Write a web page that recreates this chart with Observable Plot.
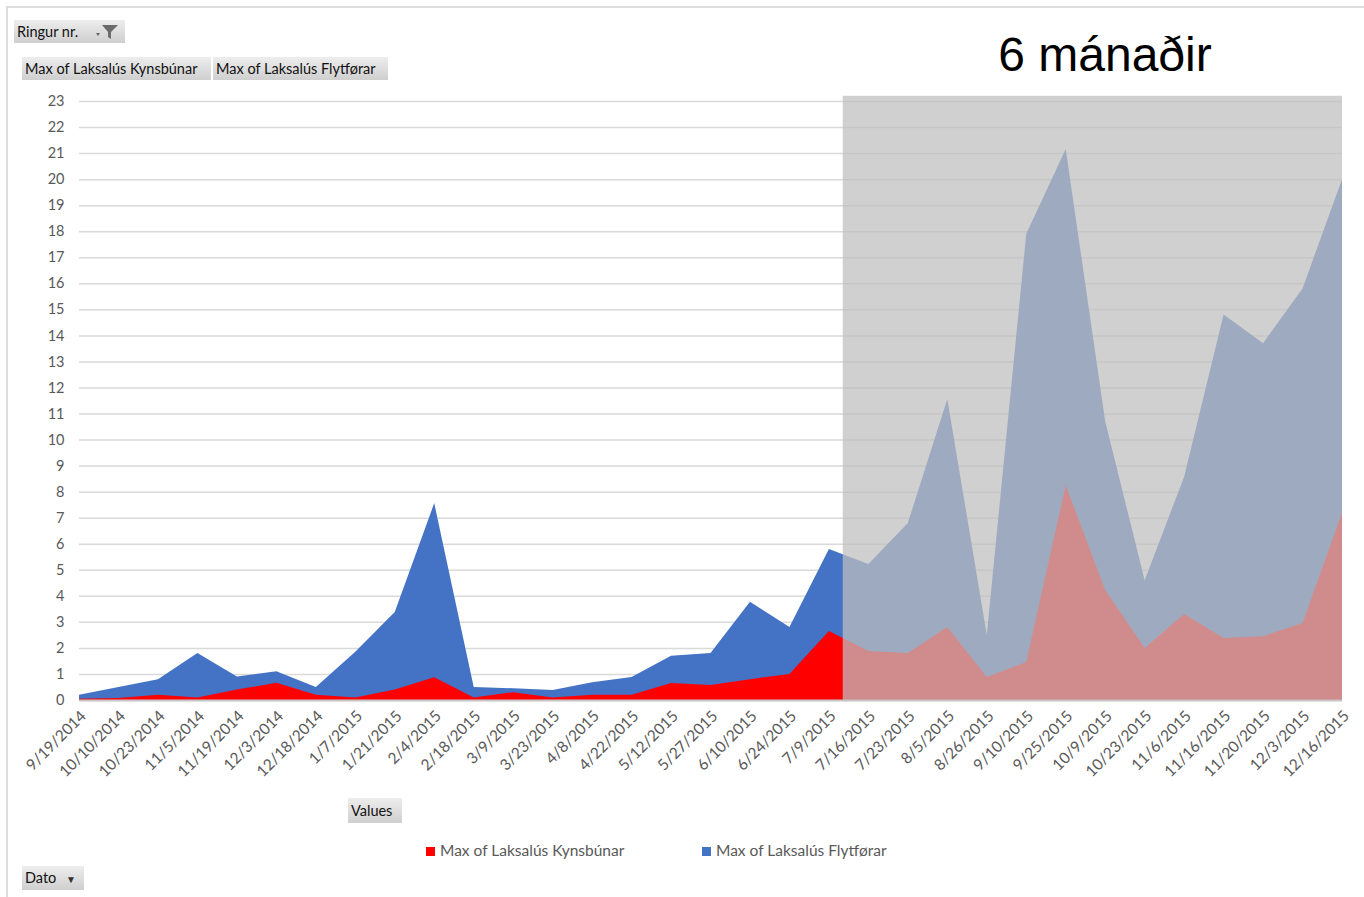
<!DOCTYPE html>
<html>
<head>
<meta charset="utf-8">
<script src="https://cdn.jsdelivr.net/npm/d3@7"></script>
<script src="https://cdn.jsdelivr.net/npm/@observablehq/plot@0.6"></script>
<style>
  html, body { margin:0; padding:0; background:#fff; }
  #wrap { position:relative; width:1364px; height:897px; overflow:hidden; font-family:Lato, "Open Sans", sans-serif; }
  #chart { position:absolute; left:0; top:0; }
  .frameT { position:absolute; left:7px; top:6px; width:1357px; height:0; border-top:2px solid #dcdcdc; }
  .frameL { position:absolute; left:6px; top:6px; width:0; height:891px; border-left:2px solid #dcdcdc; }
  .btn { position:absolute; background:linear-gradient(#ededed,#cfcfcf); color:#111; font-size:14.5px; line-height:23px; height:23px; padding:0 3px; box-sizing:border-box; white-space:nowrap; }
  .title { position:absolute; left:960px; top:27px; width:290px; text-align:center; font-family:"Liberation Sans", Arial, sans-serif; font-size:48px; color:#000; }
  .leg { position:absolute; top:841px; font-size:15.5px; color:#595959; white-space:nowrap; }
  .sw { display:inline-block; width:9px; height:9px; margin-right:5px; vertical-align:0px; }
</style>
</head>
<body>
<div id="wrap">
  <div id="chart"></div>
  <div class="frameT"></div>
  <div class="frameL"></div>
  <div class="title">6 mánaðir</div>
  <div class="btn" style="left:14px;top:20px;width:111px;">Ringur nr.
    <svg width="30" height="18" style="position:absolute;left:80px;top:3px" viewBox="0 0 30 18">
      <path d="M2 10 L6 10 L4 13 Z" fill="#666"/>
      <path d="M8 2 L24 2 L17 9 L17 16 L14 14 L14 9 Z" fill="#6b6b6b"/>
    </svg>
  </div>
  <div class="btn" style="left:22px;top:57px;width:189px;">Max of Laksalús Kynsbúnar</div>
  <div class="btn" style="left:213px;top:57px;width:175px;">Max of Laksalús Flytførar</div>
  <div class="btn" style="left:348px;top:798px;width:54px;height:25px;line-height:25px;">Values</div>
  <div class="btn" style="left:22px;top:866px;width:62px;height:24px;line-height:24px;">Dato <span style="font-size:10px;margin-left:6px;color:#333">▼</span></div>
  <div class="leg" style="left:426px;"><span class="sw" style="background:#ff0000"></span>Max of Laksalús Kynsbúnar</div>
  <div class="leg" style="left:702px;"><span class="sw" style="background:#4472c4"></span>Max of Laksalús Flytførar</div>
</div>
<script>
const labels = ["9/19/2014","10/10/2014","10/23/2014","11/5/2014","11/19/2014","12/3/2014","12/18/2014","1/7/2015","1/21/2015","2/4/2015","2/18/2015","3/9/2015","3/23/2015","4/8/2015","4/22/2015","5/12/2015","5/27/2015","6/10/2015","6/24/2015","7/9/2015","7/16/2015","7/23/2015","8/5/2015","8/26/2015","9/10/2015","9/25/2015","10/9/2015","10/23/2015","11/6/2015","11/16/2015","11/20/2015","12/3/2015","12/16/2015"];
const kynsbunar = [0.05,0.08,0.2,0.1,0.4,0.66,0.2,0.1,0.4,0.87,0.1,0.3,0.1,0.2,0.2,0.65,0.58,0.8,1.0,2.65,1.88,1.8,2.8,0.88,1.46,8.25,4.22,2.0,3.3,2.38,2.45,2.96,7.2];
const flytforar = [0.2,0.5,0.8,1.8,0.9,1.1,0.5,1.85,3.38,7.56,0.5,0.45,0.38,0.68,0.88,1.7,1.8,3.77,2.8,5.8,5.22,6.8,11.56,2.5,17.9,21.16,10.7,4.6,8.57,14.8,13.7,15.8,20.0];
const yTicks = d3.range(0, 24);
// shaded "6 months" region, in category-index / value units
const shadeStart = 19.35, shadeEnd = 32, shadeTop = 23.2;

const data = labels.map((label, i) => ({i, label, kyns: kynsbunar[i], flyt: flytforar[i]}));

const chart = Plot.plot({
  width: 1364,
  height: 897,
  marginLeft: 79,
  marginRight: 22,
  marginTop: 101,
  marginBottom: 197,
  style: {fontFamily: "Lato, 'Open Sans', sans-serif", background: "transparent"},
  x: {domain: [0, labels.length - 1], axis: null},
  y: {domain: [0, 23], axis: null},
  marks: [
    Plot.ruleY(yTicks, {stroke: "#d9d9d9", strokeWidth: 1.5}),
    Plot.areaY(data, {x: "i", y: "flyt", fill: "#4472c4"}),
    Plot.areaY(data, {x: "i", y: "kyns", fill: "#ff0000"}),
    Plot.ruleY([0], {stroke: "#c8c8c8", strokeWidth: 2}),
    Plot.rect([{x1: shadeStart, x2: shadeEnd, y1: 0, y2: shadeTop}], {x1: "x1", x2: "x2", y1: "y1", y2: "y2", fill: "rgb(191,191,191)", fillOpacity: 0.733}),
    Plot.axisY(yTicks, {tickSize: 0, tickPadding: 15, fontSize: 14.5, color: "#595959", tickFormat: d => String(d), label: null}),
    Plot.text(data, {x: "i", y: 0, text: "label", rotate: -45, textAnchor: "end", dx: 4, dy: 13, fontSize: 15.5, fill: "#595959"})
  ]
});
document.getElementById("chart").appendChild(chart);
</script>
</body>
</html>
